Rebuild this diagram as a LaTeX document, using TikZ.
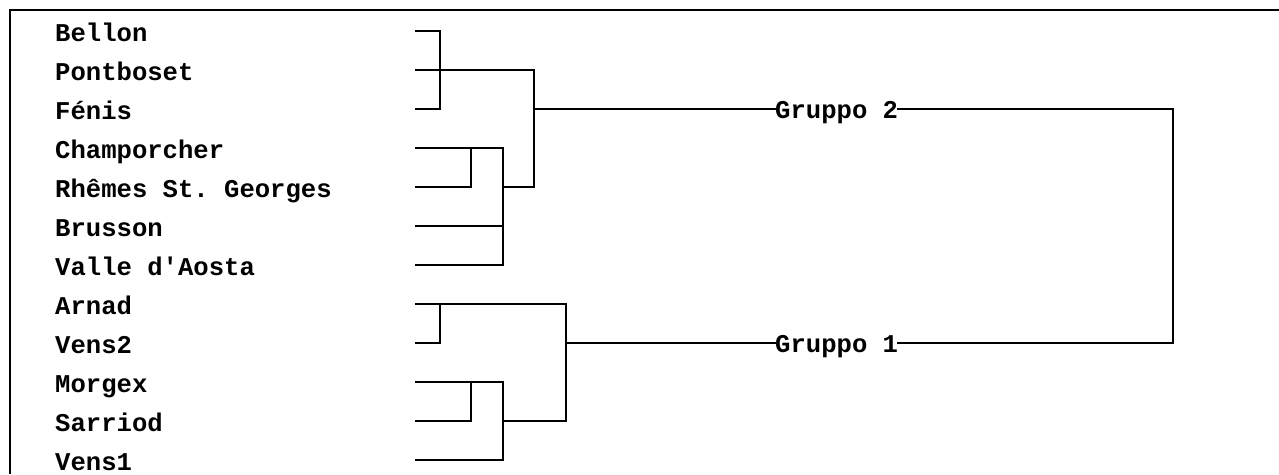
\documentclass[tikz,border=0pt]{standalone}
\usepackage{fontspec}
\setmonofont{Liberation Mono}
\tikzset{
  lbl/.style={anchor=base west, inner sep=0pt, font=\ttfamily\bfseries\fontsize{25.6}{30}\selectfont},
  grp/.style={anchor=base west, inner sep=0pt, font=\ttfamily\bfseries\fontsize{25.6}{30}\selectfont},
  link/.style={draw=black, line width=1.8pt, line cap=rect},
  frame/.style={draw=black, line width=2pt}
}
\begin{document}
\begin{tikzpicture}[x=1pt,y=-1pt]
\useasboundingbox (0,0) rectangle (1279,474);
\draw[frame] (10,474) -- (10,9.5) -- (1279,9.5);
% labels
\node[lbl] (t0) at (55,41) {Bellon};
\node[lbl] (t1) at (55,80) {Pontboset};
\node[lbl] (t2) at (55,119) {Fénis};
\node[lbl] (t3) at (55,158) {Champorcher};
\node[lbl] (t4) at (55,197) {Rhêmes St. Georges};
\node[lbl] (t5) at (55,236) {Brusson};
\node[lbl] (t6) at (55,275) {Valle d'Aosta};
\node[lbl] (t7) at (55,314) {Arnad};
\node[lbl] (t8) at (55,353) {Vens2};
\node[lbl] (t9) at (55,392) {Morgex};
\node[lbl] (t10) at (55,431) {Sarriod};
\node[lbl] (t11) at (55,470) {Vens1};
% leaf starts
\coordinate (l0) at (416,31);
\coordinate (l1) at (416,70);
\coordinate (l2) at (416,109);
\coordinate (l3) at (416,148);
\coordinate (l4) at (416,187);
\coordinate (l5) at (416,226);
\coordinate (l6) at (416,265);
\coordinate (l7) at (416,304);
\coordinate (l8) at (416,343);
\coordinate (l9) at (416,382);
\coordinate (l10) at (416,421);
\coordinate (l11) at (416,460);
% joints
\coordinate (a0) at (440,31);
\coordinate (a2) at (440,109);
\coordinate (a1) at (534,70);
\coordinate (b3) at (503,148);
\coordinate (b4) at (471,187);
\coordinate (b4t) at (471,148);
\coordinate (b6) at (503,265);
\coordinate (b5) at (503,226);
\coordinate (bm) at (503,187);
\coordinate (bo) at (534,187);
\coordinate (g2j) at (534,109);
\coordinate (c7) at (566,304);
\coordinate (c8) at (440,343);
\coordinate (c8t) at (440,304);
\coordinate (c9) at (503,382);
\coordinate (c10) at (471,421);
\coordinate (c10t) at (471,382);
\coordinate (c11) at (503,460);
\coordinate (cm) at (503,421);
\coordinate (co) at (566,421);
\coordinate (g1j) at (566,343);
\coordinate (r2) at (1173,109);
\coordinate (r1) at (1173,343);
% group labels
\node[grp] (g2) at (775,118) {Gruppo 2};
\node[grp] (g1) at (775,352) {Gruppo 1};
% group 2
\draw[link] (l0) -- (a0) -- (a2) -- (l2);
\draw[link] (l1) -- (a1);
\draw[link] (l3) -- (b3);
\draw[link] (l4) -- (b4) -- (b4t);
\draw[link] (b3) -- (b6) -- (l6);
\draw[link] (l5) -- (b5);
\draw[link] (bm) -- (bo);
\draw[link] (a1) -- (bo);
\draw[link] (g2j) -- (g2j -| g2.west);
% group 1
\draw[link] (l7) -- (c7);
\draw[link] (l8) -- (c8) -- (c8t);
\draw[link] (c7) -- (co);
\draw[link] (l9) -- (c9);
\draw[link] (l10) -- (c10) -- (c10t);
\draw[link] (c9) -- (c11) -- (l11);
\draw[link] (cm) -- (co);
\draw[link] (g1j) -- (g1j -| g1.west);
% top join
\draw[link] (r2 -| g2.east) -- (r2) -- (r1) -- (r1 -| g1.east);
\end{tikzpicture}
\end{document}
